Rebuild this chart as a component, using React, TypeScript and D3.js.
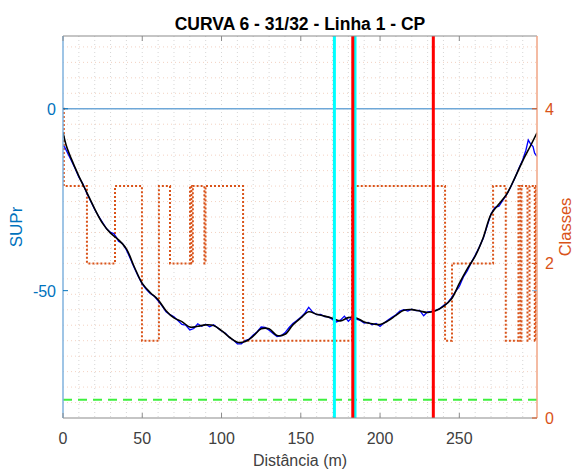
import React from 'react'
import * as d3 from 'd3'

// smoothed SUPr (black)
const smoothDist = [0, 2, 5, 10, 15, 20, 25, 30, 35, 40, 45, 50, 55, 60, 65, 70, 75, 80, 85, 90, 95, 100, 105, 110, 115, 120, 125, 130, 135, 140, 145, 150, 155, 160, 165, 170, 175, 180, 185, 190, 195, 200, 205, 210, 215, 220, 225, 230, 235, 240, 245, 250, 255, 260, 265, 270, 275, 280, 285, 290, 295, 299]
const smoothSupr = [-6.5, -10, -13.5, -18.5, -23, -27.5, -31.5, -34.2, -36, -38.5, -43.5, -48, -50.5, -52.5, -55.5, -57.5, -58.5, -60, -59.8, -59.4, -59.6, -61, -62.8, -64.2, -64, -62.5, -60.5, -60.5, -62.3, -62, -59.4, -57.5, -55.8, -56.5, -57, -57.6, -58.3, -57.4, -57.5, -58.6, -59.1, -59.3, -58.3, -56.8, -55.4, -55.2, -55.6, -56, -55.5, -54.3, -52.3, -48, -44, -40.5, -35.5, -29, -26.2, -23.4, -19, -14.3, -10.1, -6.6]

// raw SUPr (blue)
const rawDist = [0, 1, 2.5, 5, 7.5, 10, 12.5, 15, 17.5, 20, 22.5, 25, 27.5, 30, 32, 33.5, 35, 37.5, 40, 42.5, 45, 47.5, 50, 52.5, 55, 57.5, 60, 62.5, 65, 67.5, 70, 72.5, 75, 77.5, 80, 82.5, 85, 87.5, 90, 92.5, 95, 97.5, 100, 102.5, 105, 107.5, 110, 112.5, 115, 117.5, 120, 122.5, 125, 127.5, 130, 132.5, 135, 137.5, 140, 142.5, 145, 147.5, 150, 152.5, 155, 157.5, 160, 162.5, 165, 167.5, 170, 172.5, 175, 177.5, 180, 182.5, 185, 187.5, 190, 192.5, 195, 197.5, 200, 202.5, 205, 207.5, 210, 212.5, 215, 217.5, 220, 222.5, 225, 227.5, 230, 232.5, 235, 237.5, 240, 242.5, 245, 247.5, 250, 252.5, 255, 257.5, 260, 262.5, 265, 267.5, 270, 272.5, 275, 277.5, 280, 282.5, 285, 287.5, 290, 292, 293.5, 295, 296.5, 297.5, 299]
const rawSupr = [-10.2, -10.5, -11.8, -14, -16.3, -18.8, -20.6, -23.2, -25.4, -27.7, -29.6, -31.3, -33.0, -34.0, -34.3, -35.2, -36.4, -37, -38.8, -41.2, -43.8, -46.1, -48.2, -49.6, -50.8, -51.5, -52.8, -54.2, -55.8, -56.6, -57.2, -58.2, -59.3, -59.5, -60.8, -60.4, -59.1, -59.8, -59.2, -59.9, -59.4, -60.2, -61.1, -61.7, -62.9, -63.6, -64.6, -64.6, -63.7, -63.3, -62.2, -61.3, -60.0, -60.1, -60.9, -61.8, -62.6, -62.4, -61.6, -60.2, -59.0, -58.2, -57.3, -56.2, -54.6, -55.9, -56.6, -56.5, -57.1, -57.2, -57.9, -58.6, -58.1, -57.0, -58.4, -57.3, -57.8, -58.2, -58.9, -58.7, -59.4, -59.0, -59.8, -58.9, -58.1, -57.3, -56.6, -55.6, -55.2, -55.6, -55.1, -55.5, -55.4, -56.9, -55.8, -55.7, -55.4, -55.0, -54.1, -53.4, -52.0, -50.3, -48.8, -46.3, -44.6, -42.3, -40.3, -38.1, -35.7, -32.3, -28.9, -27.1, -26.8, -25.1, -23.5, -21.4, -19.1, -16.4, -14.0, -11.4, -8.6, -9.7, -10.4, -12.2, -13.1]

// classes (step, right axis)
const classDist = [0, 0.5, 15.1, 32.8, 49.8, 60.5, 67.5, 80.1, 81.0, 81.9, 89.2, 89.9, 113.6, 182.3, 241, 245.4, 271.3, 279.3, 287.3, 288.6, 289.2, 293.0, 294.3, 297.6, 298.3, 299]
const classVal = [4, 3, 2, 3, 1, 3, 2, 3, 2, 3, 2, 3, 1, 3, 1, 2, 3, 1, 3, 1, 3, 1, 3, 1, 3, 3]

const cyanMarks = [171.2, 184.2]
const redMarks = [182.8, 233.6]
const limitSupr = -80

const xTicks = [0, 50, 100, 150, 200, 250]
const leftTicks = [0, -50]
const rightTicks = [0, 2, 4]

const BLUE = '#0072BD'
const ORANGE = '#D95319'
const FONT = 'Liberation Sans, Arial, Helvetica, sans-serif'

export default function App() {
  const W = 576, H = 469
  const L = 63, R = 537, T = 36, B = 418

  const x = d3.scaleLinear().domain([0, 299]).range([L, R])
  const yL = d3.scaleLinear().domain([-85, 20]).range([B, T])
  const yR = d3.scaleLinear().domain([0, 4 * (B - T) / (B - yL(0))]).range([B, T])

  const smoothLine = d3.line<number>()
    .x((_, i) => x(smoothDist[i]))
    .y(d => yL(d))
    .curve(d3.curveCatmullRom)
  const rawLine = d3.line<number>()
    .x((_, i) => x(rawDist[i]))
    .y(d => yL(d))
  const classLine = d3.line<number>()
    .x((_, i) => x(classDist[i]))
    .y(d => yR(d))
    .curve(d3.curveStepAfter)

  const vGrid = d3.range(10, 299, 10)
  const hGrid = d3.range(0.2, 4.9, 0.2)

  return (
    <svg width={W} height={H} style={{ position: 'absolute', left: 0, top: 0, background: '#fff' }} fontFamily={FONT}>
      <rect x={0} y={0} width={W} height={H} fill="#fff" />
      <defs>
        <clipPath id="plot"><rect x={L} y={T} width={R - L} height={B - T} /></clipPath>
      </defs>
      {/* grid */}
      {vGrid.map(v => (
        <line key={'v' + v} x1={x(v)} x2={x(v)} y1={T} y2={B} stroke="#cccccc" strokeWidth={0.8} strokeDasharray="1 3" />
      ))}
      {hGrid.map(v => (
        <line key={'h' + v} x1={L} x2={R} y1={yR(v)} y2={yR(v)} stroke="#f0c6b2" strokeWidth={0.8} strokeDasharray="1 3" />
      ))}

      <g clipPath="url(#plot)">
        <line x1={L} x2={R} y1={yL(0)} y2={yL(0)} stroke="#6fa8d8" strokeWidth={1.5} />
        <line x1={L} x2={R} y1={yL(limitSupr)} y2={yL(limitSupr)} stroke="#3ef03e" strokeWidth={2} strokeDasharray="9 6" />
        <path d={classLine(classVal) || ''} fill="none" stroke={ORANGE} strokeWidth={2} strokeDasharray="2 2" />
        <path d={rawLine(rawSupr) || ''} fill="none" stroke="#0000ff" strokeWidth={1.3} />
        <path d={smoothLine(smoothSupr) || ''} fill="none" stroke="#000" strokeWidth={1.6} />
        {cyanMarks.map(v => (
          <line key={'c' + v} x1={x(v)} x2={x(v)} y1={T} y2={B} stroke="#00ffff" strokeWidth={3} />
        ))}
        {redMarks.map(v => (
          <line key={'r' + v} x1={x(v)} x2={x(v)} y1={T} y2={B} stroke="#ff0000" strokeWidth={3} />
        ))}
      </g>

      {/* axes box */}
      <line x1={L} x2={R} y1={T} y2={T} stroke="#8c8c8c" strokeWidth={1.2} />
      <line x1={L} x2={R} y1={B} y2={B} stroke="#8c8c8c" strokeWidth={1.2} />
      <line x1={L} x2={L} y1={T} y2={B} stroke="#7fb2de" strokeWidth={1.5} />
      <line x1={R} x2={R} y1={T} y2={B} stroke="#f0a585" strokeWidth={1.5} />

      {xTicks.map(v => (
        <g key={'xt' + v}>
          <line x1={x(v)} x2={x(v)} y1={B} y2={B - 5} stroke="#8c8c8c" />
          <line x1={x(v)} x2={x(v)} y1={T} y2={T + 5} stroke="#8c8c8c" />
          <text x={x(v)} y={444} textAnchor="middle" fontSize={16} fill="#404040">{v}</text>
        </g>
      ))}
      {leftTicks.map(v => (
        <g key={'yl' + v}>
          <line x1={L} x2={L + 5} y1={yL(v)} y2={yL(v)} stroke={BLUE} />
          <line x1={R} x2={R - 5} y1={yL(v)} y2={yL(v)} stroke="#7fb2de" />
          <text x={56} y={yL(v) + 6} textAnchor="end" fontSize={16} fill={BLUE}>{v}</text>
        </g>
      ))}
      {rightTicks.map(v => (
        <g key={'yr' + v}>
          <line x1={R} x2={R - 5} y1={yR(v)} y2={yR(v)} stroke={ORANGE} />
          <text x={545} y={yR(v) + 6} textAnchor="start" fontSize={16} fill={ORANGE}>{v}</text>
        </g>
      ))}

      <text x={(L + R) / 2} y={30} textAnchor="middle" fontSize={17.5} fontWeight="bold" fill="#000">
        CURVA 6 - 31/32 - Linha 1 - CP
      </text>
      <text x={(L + R) / 2} y={466} textAnchor="middle" fontSize={16} fill="#404040">Distância (m)</text>
      <text transform={`translate(22, ${(T + B) / 2}) rotate(-90)`} textAnchor="middle" fontSize={17} fill={BLUE}>SUPr</text>
      <text transform={`translate(571, ${(T + B) / 2}) rotate(-90)`} textAnchor="middle" fontSize={16.5} fill={ORANGE}>Classes</text>
    </svg>
  )
}
